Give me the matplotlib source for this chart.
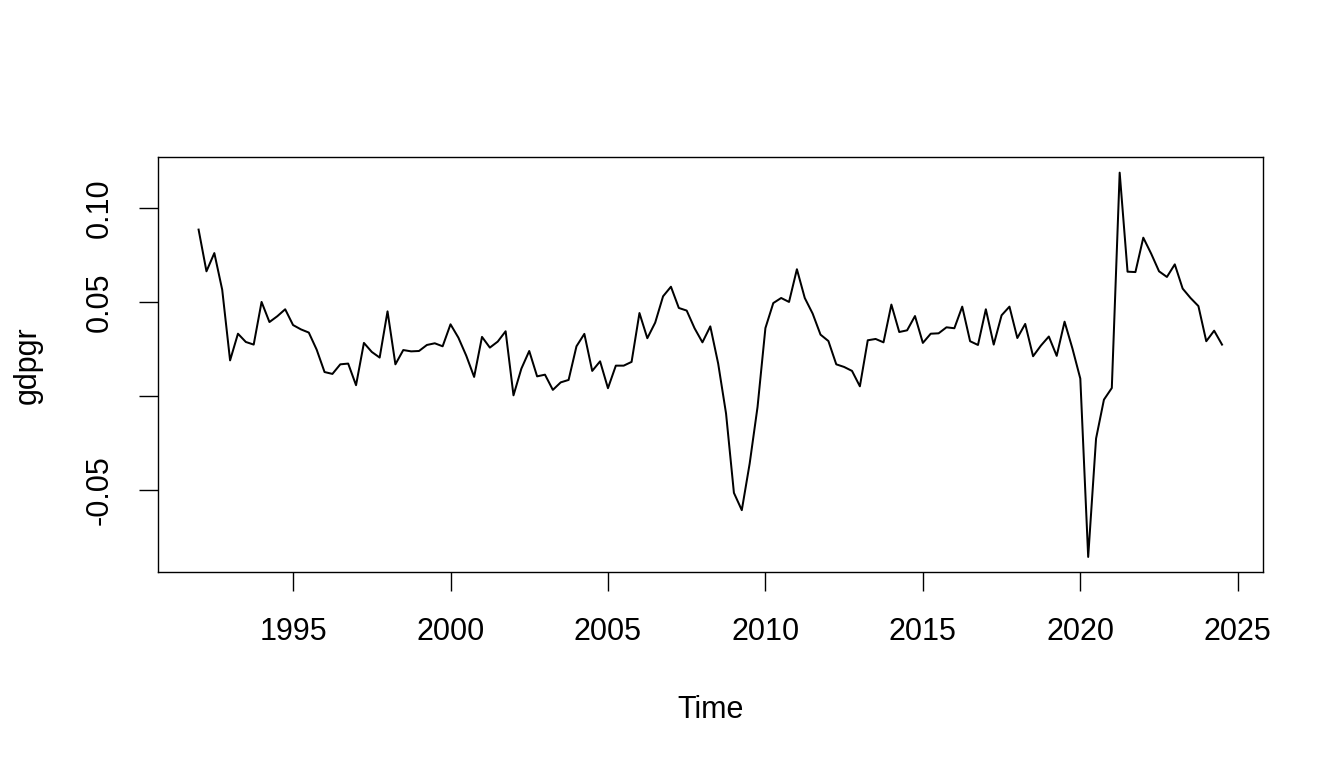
import numpy as np
import matplotlib
matplotlib.use("Agg")
import matplotlib.pyplot as plt

# quarterly series, 1992 Q1 .. 2024 Q3
start_year = 1992
gdpgr = [
    0.0887, 0.0665, 0.0762, 0.0567, 0.0191, 0.0333, 0.0289, 0.0275,
    0.0502, 0.0395, 0.0426, 0.0463, 0.0379, 0.0356, 0.0339, 0.0248,
    0.0129, 0.0119, 0.0170, 0.0174, 0.0059, 0.0284, 0.0236, 0.0206,
    0.0452, 0.0170, 0.0246, 0.0239, 0.0241, 0.0273, 0.0282, 0.0266,
    0.0383, 0.0312, 0.0216, 0.0103, 0.0316, 0.0259, 0.0291, 0.0346,
    0.0005, 0.0147, 0.0241, 0.0106, 0.0115, 0.0034, 0.0074, 0.0087,
    0.0266, 0.0332, 0.0135, 0.0186, 0.0043, 0.0163, 0.0163, 0.0183,
    0.0443, 0.0309, 0.0392, 0.0532, 0.0583, 0.0470, 0.0456, 0.0362,
    0.0287, 0.0372, 0.0174, -0.0092, -0.0514, -0.0606, -0.0358, -0.0057,
    0.0363, 0.0496, 0.0523, 0.0502, 0.0676, 0.0523, 0.0440, 0.0328,
    0.0294, 0.0170, 0.0156, 0.0135, 0.0053, 0.0298, 0.0305, 0.0287,
    0.0488, 0.0342, 0.0351, 0.0427, 0.0284, 0.0333, 0.0335, 0.0367,
    0.0362, 0.0477, 0.0293, 0.0273, 0.0463, 0.0275, 0.0431, 0.0477,
    0.0310, 0.0385, 0.0213, 0.0270, 0.0318, 0.0215, 0.0397, 0.0254,
    0.0094, -0.0855, -0.0225, -0.0018, 0.0044, 0.1190, 0.0663, 0.0661,
    0.0844, 0.0759, 0.0665, 0.0635, 0.0702, 0.0573, 0.0523, 0.0480,
    0.0293, 0.0349, 0.0275,
]
x_ticks = [1995, 2000, 2005, 2010, 2015, 2020, 2025]
y_ticks = [-0.05, 0.0, 0.05, 0.10]
y_tick_labels = ["-0.05", "", "0.05", "0.10"]

t = start_year + np.arange(len(gdpgr)) / 4

plt.rcParams["font.family"] = ["Liberation Sans", "DejaVu Sans"]
fig = plt.figure(figsize=(13.44, 7.68), dpi=100)
ax = fig.add_axes([0.1173, 0.2548, 0.8224, 0.5404])

ax.plot(t, gdpgr, color="black", linewidth=1.44)

# R style 4% padding
xr = t[-1] - t[0]
ax.set_xlim(t[0] - 0.04 * xr, t[-1] + 0.04 * xr)
yr = max(gdpgr) - min(gdpgr)
ax.set_ylim(min(gdpgr) - 0.04 * yr, max(gdpgr) + 0.04 * yr)

ax.set_xticks(x_ticks)
ax.set_xticklabels([str(v) for v in x_ticks])
ax.set_yticks(y_ticks)
ax.set_yticklabels(y_tick_labels, rotation=90, va="center")

ax.tick_params(axis="both", direction="out", length=14, width=1.0,
               labelsize=22, colors="black")
ax.tick_params(axis="x", pad=18)
ax.tick_params(axis="y", pad=17)
for sp in ax.spines.values():
    sp.set_linewidth(1.0)

ax.set_xlabel("Time", fontsize=22, labelpad=35)
ax.set_ylabel("gdpgr", fontsize=22, labelpad=30)

fig.savefig("out.png", dpi=100)
plt.close(fig)
